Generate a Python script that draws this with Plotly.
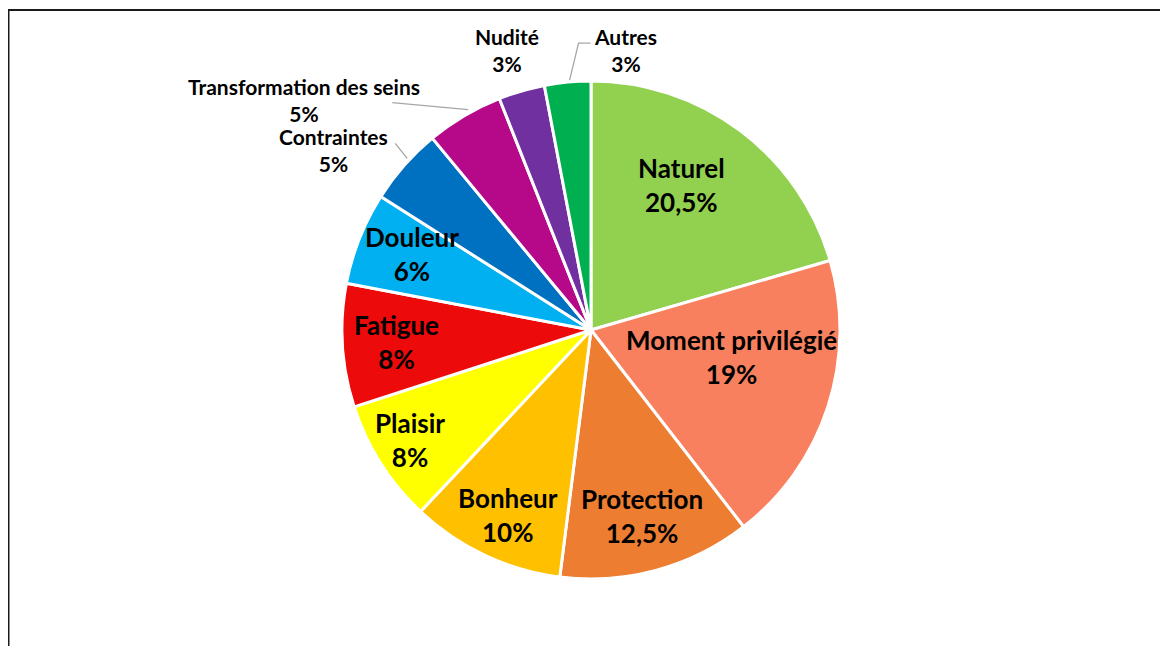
import math
import plotly.graph_objects as go

# data
categories = ["Naturel", "Moment privilégié", "Protection", "Bonheur", "Plaisir",
              "Fatigue", "Douleur", "Contraintes", "Transformation des seins",
              "Nudité", "Autres"]
values = [20.5, 19, 12.5, 10, 8, 8, 6, 5, 5, 3, 3]
pct_labels = ["20,5%", "19%", "12,5%", "10%", "8%", "8%", "6%", "5%", "5%", "3%", "3%"]

colors = ["#92D050", "#F8805F", "#ED7D31", "#FFC000", "#FFFF00", "#EC0A0A",
          "#00B0F0", "#0070C0", "#B5098A", "#7030A0", "#00B050"]

# layout (pixels, figure coords; the page adds an 8px body margin)
W, H = 1168, 646
cx, cy, R = 583, 322, 249

# label placement: radius factor and angular nudge (deg) per slice
label_r = [0.686, 0.573, 0.774, 0.814, 0.851, 0.781, 0.781, 1.263, 1.477, 1.173, 1.133]
label_nudge = [-5, -7, 0, -1, 1, 0, 1.4, -6.5, -20.7, -0.5, 12.5]
outside = [False] * 7 + [True] * 4
# leader line points, pixel offsets from slice edge
leaders = {7: [(3, -7), (-9, -22)], 8: [(4, -6), (-72, -13)], 10: [(2, -2), (11, -39), (23, -39)]}


def px(x, y):
    return x / W, 1 - y / H


total = sum(values)
mids = []
acc = 0
for v in values:
    mids.append(360 * (acc + v / 2) / total)
    acc += v


def polar(theta, r):
    t = math.radians(theta)
    return cx + r * math.sin(t), cy - r * math.cos(t)


fig = go.Figure(go.Pie(
    labels=categories, values=values, sort=False, direction="clockwise", rotation=0,
    marker=dict(colors=colors, line=dict(color="white", width=3)),
    textinfo="none", showlegend=False,
    domain=dict(x=[(cx - R) / W, (cx + R) / W], y=[1 - (cy + R) / H, 1 - (cy - R) / H]),
))

annotations = []
for i, name in enumerate(categories):
    x, y = polar(mids[i] + label_nudge[i], R * label_r[i])
    xp, yp = px(x, y)
    size = 21 if outside[i] else 26
    annotations.append(dict(
        x=xp, y=yp, xref="paper", yref="paper", showarrow=False,
        text=f"<b>{name}<br>{pct_labels[i]}</b>",
        font=dict(family="Lato", size=size, color="black"),
        xanchor="center", yanchor="middle", align="center",
    ))

shapes = [dict(type="rect", xref="paper", yref="paper",
               x0=0.5 / W, x1=1.05, y0=-0.05, y1=1 - 2 / H,
               line=dict(color="#1a1a1a", width=2))]

for i, pts in leaders.items():
    ex, ey = polar(mids[i], R)
    path = []
    for k, (dx, dy) in enumerate(pts):
        xp, yp = px(ex + dx, ey + dy)
        path.append(("M" if k == 0 else "L") + f" {xp} {yp}")
    shapes.append(dict(type="path", xref="paper", yref="paper", path=" ".join(path),
                       line=dict(color="#A6A6A6", width=1.3)))

fig.update_layout(
    width=W, height=H,
    margin=dict(l=0, r=0, t=0, b=0),
    paper_bgcolor="white", plot_bgcolor="white",
    annotations=annotations, shapes=shapes,
)

fig.write_html("out.html")
